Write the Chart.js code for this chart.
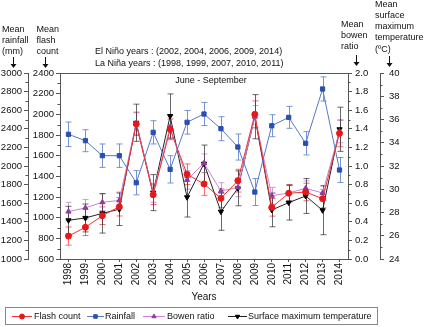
<!DOCTYPE html>
<html>
<head>
<meta charset="utf-8">
<script src="https://cdn.jsdelivr.net/npm/chart.js@4.4.1/dist/chart.umd.min.js"></script>
<style>
  html, body { margin: 0; padding: 0; background: #fff; }
  #wrap { width: 425px; height: 327px; }
</style>
</head>
<body>
<div id="wrap"><canvas id="chart" width="425" height="327"></canvas></div>
<script>
const years = ['1998', '1999', '2000', '2001', '2002', '2003', '2004', '2005', '2006',
               '2007', '2008', '2009', '2010', '2011', '2012', '2013', '2014'];

const flash     = [822, 907, 1019, 1106, 1906, 1222, 1855, 1420, 1326, 1187, 1358, 2000, 1100, 1236, 1248, 1184, 1816];
const flashErr  = [88, 80, 85, 90, 110, 95, 100, 100, 110, 90, 110, 130, 85, 85, 85, 90, 130];
const rain      = [2341, 2272, 2111, 2111, 1820, 2362, 1964, 2470, 2559, 2401, 2204, 1720, 2433, 2523, 2244, 2828, 1957];
const rainErr   = [132, 118, 126, 126, 130, 125, 147, 127, 124, 129, 140, 145, 118, 118, 125, 130, 134];
const bowen     = [0.51, 0.55, 0.61, 0.63, 1.46, 0.71, 1.42, 0.85, 1.03, 0.73, 0.77, 1.53, 0.68, 0.71, 0.76, 0.71, 1.37];
const bowenErr  = [0.10, 0.09, 0.09, 0.09, 0.12, 0.10, 0.12, 0.10, 0.10, 0.09, 0.10, 0.12, 0.09, 0.08, 0.08, 0.08, 0.12];
const temp      = [27.33, 27.53, 27.93, 28.28, 35.72, 29.71, 36.30, 29.31, 32.2, 28.07, 30.08, 36.24, 28.22, 28.85, 29.42, 28.19, 35.16];
const tempErr   = [1.2, 1.2, 1.7, 1.4, 1.6, 1.55, 1.9, 1.7, 1.6, 1.6, 1.5, 1.9, 1.45, 1.5, 1.5, 2.1, 1.9];

const elNino = 'El Niño years : (2002, 2004, 2006, 2009, 2014)';
const laNina = 'La Niña years : (1998, 1999, 2007, 2010, 2011)';

const FONT = '"Liberation Sans", Arial, sans-serif';
const AXIS = '#555';

function yAxis(pos, min, max, step, width, pad, fmt) {
  return {
    type: 'linear',
    position: pos,
    min: min,
    max: max,
    ticks: { stepSize: step, font: { family: FONT, size: 9.5 }, color: '#111', padding: pad, callback: fmt },
    grid: { drawOnChartArea: false, drawTicks: true, tickLength: 4, color: AXIS },
    border: { display: true, color: AXIS },
    afterFit: s => { s.width = width; }
  };
}

// error bars + minor ticks + frame + texts + legend
const decor = {
  id: 'decor',
  beforeDatasetsDraw(chart) {
    const ctx = chart.ctx;
    const x = chart.scales.x;
    ctx.save();
    ctx.lineWidth = 1;
    chart.data.datasets.forEach(ds => {
      const y = chart.scales[ds.yAxisID];
      ctx.strokeStyle = ds.errColor;
      ds.data.forEach((v, i) => {
        const px = Math.round(x.getPixelForValue(i)) + 0.5;
        const top = y.getPixelForValue(v + ds.err[i]);
        const bot = y.getPixelForValue(v - ds.err[i]);
        ctx.beginPath();
        ctx.moveTo(px, top); ctx.lineTo(px, bot);
        ctx.moveTo(px - 3, top); ctx.lineTo(px + 3, top);
        ctx.moveTo(px - 3, bot); ctx.lineTo(px + 3, bot);
        ctx.stroke();
      });
    });
    ctx.restore();
  },
  afterDraw(chart) {
    const ctx = chart.ctx;
    const a = chart.chartArea;
    ctx.save();
    ctx.strokeStyle = AXIS;
    ctx.lineWidth = 1;
    // top frame line
    ctx.beginPath();
    ctx.moveTo(a.left, Math.round(a.top) + 0.5);
    ctx.lineTo(a.right, Math.round(a.top) + 0.5);
    ctx.stroke();

    // minor ticks
    const minor = [['yRain', 100, -1], ['yFlash', 100, -1], ['yBowen', 0.1, 1], ['yTemp', 1, 1]];
    minor.forEach(([id, step, dir]) => {
      const s = chart.scales[id];
      const edge = dir < 0 ? s.right : s.left;
      for (let v = s.min + step; v < s.max; v += 2 * step) {
        const py = Math.round(s.getPixelForValue(v)) + 0.5;
        ctx.beginPath();
        ctx.moveTo(edge, py);
        ctx.lineTo(edge + dir * 2.5, py);
        ctx.stroke();
      }
    });

    // texts
    ctx.fillStyle = '#111';
    ctx.font = '9px ' + FONT;
    ctx.textBaseline = 'middle';
    ctx.textAlign = 'left';
    const lines = (arr, x, ys) => arr.forEach((t, i) => ctx.fillText(t, x, ys[i]));
    lines(['Mean', 'rainfall', '(mm)'], 2, [29.5, 40.5, 51.5]);
    lines(['Mean', 'flash', 'count'], 36.5, [29.5, 40.5, 51.5]);
    lines(['Mean', 'bowen', 'ratio'], 341, [25, 36, 47]);
    lines(['Mean', 'surface', 'maximum', 'temperature', '(ºC)'], 375, [5, 16, 27, 38, 49.5]);
    ctx.fillText(elNino, 95, 52);
    ctx.fillText(laNina, 95, 63.5);
    ctx.textAlign = 'center';
    ctx.fillText('June - September', 211, 81);
    ctx.font = '10px ' + FONT;
    ctx.fillText('Years', 204, 297);

    // arrows
    ctx.strokeStyle = '#111';
    const arrow = (x, y0, y1) => {
      ctx.beginPath();
      ctx.moveTo(x + 0.5, y0); ctx.lineTo(x + 0.5, y1 - 3);
      ctx.stroke();
      ctx.beginPath();
      ctx.moveTo(x - 2.5, y1 - 4); ctx.lineTo(x + 3.5, y1 - 4); ctx.lineTo(x + 0.5, y1);
      ctx.closePath();
      ctx.fill();
    };
    arrow(13, 57, 68);
    arrow(45, 57, 68);
    arrow(356, 55, 66);
    arrow(389, 56, 67);

    // legend
    ctx.strokeStyle = '#888';
    ctx.strokeRect(5.5, 307.5, 372, 17);
    const items = [[12, 32, 34], [87, 104, 105], [143, 165, 167], [228, 247, 248]];
    ctx.font = '9px ' + FONT;
    ctx.textAlign = 'left';
    chart.data.datasets.forEach((ds, i) => {
      const [x0, x1, tx] = items[i];
      const ly = 316.5;
      ctx.strokeStyle = ds.borderColor;
      ctx.lineWidth = 1;
      ctx.beginPath();
      ctx.moveTo(x0, ly); ctx.lineTo(x1, ly);
      ctx.stroke();
      ctx.fillStyle = ds.pointBackgroundColor;
      ctx.strokeStyle = ds.pointBackgroundColor;
      Chart.helpers.drawPoint(ctx, { pointStyle: ds.pointStyle, radius: ds.pointRadius - 0.5,
        rotation: ds.pointRotation || 0, borderWidth: 1 }, (x0 + x1) / 2, ly);
      ctx.fillStyle = '#111';
      ctx.fillText(ds.label, tx, ly);
    });
    ctx.restore();
  }
};

new Chart(document.getElementById('chart'), {
  type: 'line',
  data: {
    labels: years,
    datasets: [
      {
        label: 'Flash count', data: flash, err: flashErr, yAxisID: 'yFlash',
        borderColor: '#f23030', borderWidth: 1, errColor: 'rgba(240,70,70,0.8)',
        pointStyle: 'circle', pointRadius: 3, pointBackgroundColor: '#e81818', pointBorderColor: '#e81818'
      },
      {
        label: 'Rainfall', data: rain, err: rainErr, yAxisID: 'yRain',
        borderColor: '#5577c8', borderWidth: 1, errColor: 'rgba(95,130,205,0.85)',
        pointStyle: 'rect', pointRadius: 3, pointBackgroundColor: '#2a4fb2', pointBorderColor: '#2a4fb2'
      },
      {
        label: 'Bowen ratio', data: bowen, err: bowenErr, yAxisID: 'yBowen',
        borderColor: '#cc80d6', borderWidth: 1, errColor: 'rgba(200,140,210,0.85)',
        pointStyle: 'triangle', pointRadius: 3, pointBackgroundColor: '#8e3c9e', pointBorderColor: '#8e3c9e'
      },
      {
        label: 'Surface maximum temperature', data: temp, err: tempErr, yAxisID: 'yTemp',
        borderColor: '#222', borderWidth: 1, errColor: 'rgba(40,40,40,0.7)',
        pointStyle: 'triangle', pointRotation: 180, pointRadius: 3,
        pointBackgroundColor: '#000', pointBorderColor: '#000'
      }
    ]
  },
  options: {
    responsive: false,
    animation: false,
    layout: { padding: { top: 73, left: 0, right: 15, bottom: 38 } },
    plugins: { legend: { display: false }, tooltip: { enabled: false } },
    elements: { line: { tension: 0 } },
    scales: {
      x: {
        type: 'category',
        offset: true,
        ticks: { autoSkip: false, minRotation: 90, maxRotation: 90, padding: 1,
                 font: { family: FONT, size: 10 }, color: '#111' },
        grid: { drawOnChartArea: false, drawTicks: true, tickLength: 3, offset: false, color: AXIS },
        border: { display: true, color: AXIS },
        afterFit: s => { s.height = 30; }
      },
      yFlash: yAxis('left', 600, 2400, 200, 32, 2),
      yRain: yAxis('left', 1000, 3000, 200, 28, 2),
      yBowen: yAxis('right', 0, 2, 0.2, 32, 3, v => v.toFixed(1)),
      yTemp: yAxis('right', 24, 40, 2, 30, 5)
    }
  },
  plugins: [decor]
});
</script>
</body>
</html>
